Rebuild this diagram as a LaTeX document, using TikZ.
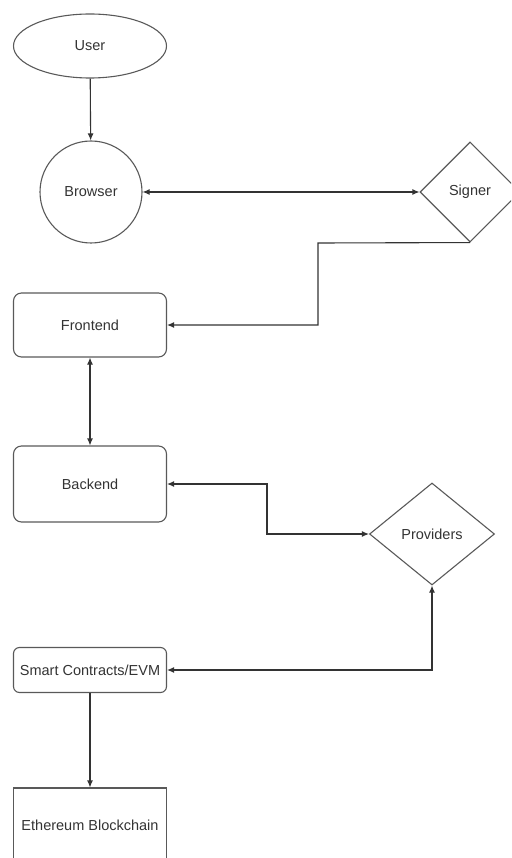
\documentclass[tikz,border=0pt]{standalone}
\usepackage{fontspec}
\setmainfont{Liberation Sans}
\usetikzlibrary{shapes.geometric,arrows.meta}

\begin{document}
\begin{tikzpicture}[x=1pt,y=-1pt,>={Latex[length=7pt,width=6pt]},line width=1.1pt,draw=black!80,
  every node/.style={font=\fontsize{14.5}{17}\selectfont,text=black!80,draw=black!65,inner sep=0pt},
  boxnode/.style={rectangle,minimum width=153pt,minimum height=64pt},
  roundbox/.style={boxnode,rounded corners=8pt},
  decision/.style={diamond,aspect=1}]
% Page frame
\useasboundingbox (0,0) rectangle (511,858);
\clip (0,0) rectangle (511,858);

% Client side
\node[ellipse,minimum width=153pt,minimum height=64pt] (user) at (90,46) {User};
\node[circle,minimum size=102pt] (browser) at (91,192) {Browser};
\node[decision,minimum width=100pt,minimum height=100pt] (signer) at (470,192) {Signer};

\node[roundbox] (frontend) at (90,325) {Frontend};
\node[roundbox,minimum height=76pt] (backend) at (90,484) {Backend};
\node[decision,minimum width=125pt,minimum height=102pt] (providers) at (432,534) {Providers};

% Chain side
\node[boxnode,rounded corners=6pt,minimum height=45pt] (contracts) at (90,670) {Smart Contracts/EVM};
\node[boxnode,minimum height=74pt] (chain) at (90,825) {Ethereum Blockchain};

% Bends
\coordinate (signerbend) at (318,243);
\coordinate (backendbend) at (267,534);

\draw[->] (user) -- (browser);
\draw[<->] (browser) -- (signer);
\draw[->] (signer.south) -- (signerbend) |- (frontend.east);
\draw[<->] (frontend) -- (backend);
\draw[<->] (backend.east) -| (backendbend) -- (providers.west);
\draw[<->] (contracts.east) -| (providers.south);
\draw[->] (contracts) -- (chain);

\end{tikzpicture}
\end{document}
